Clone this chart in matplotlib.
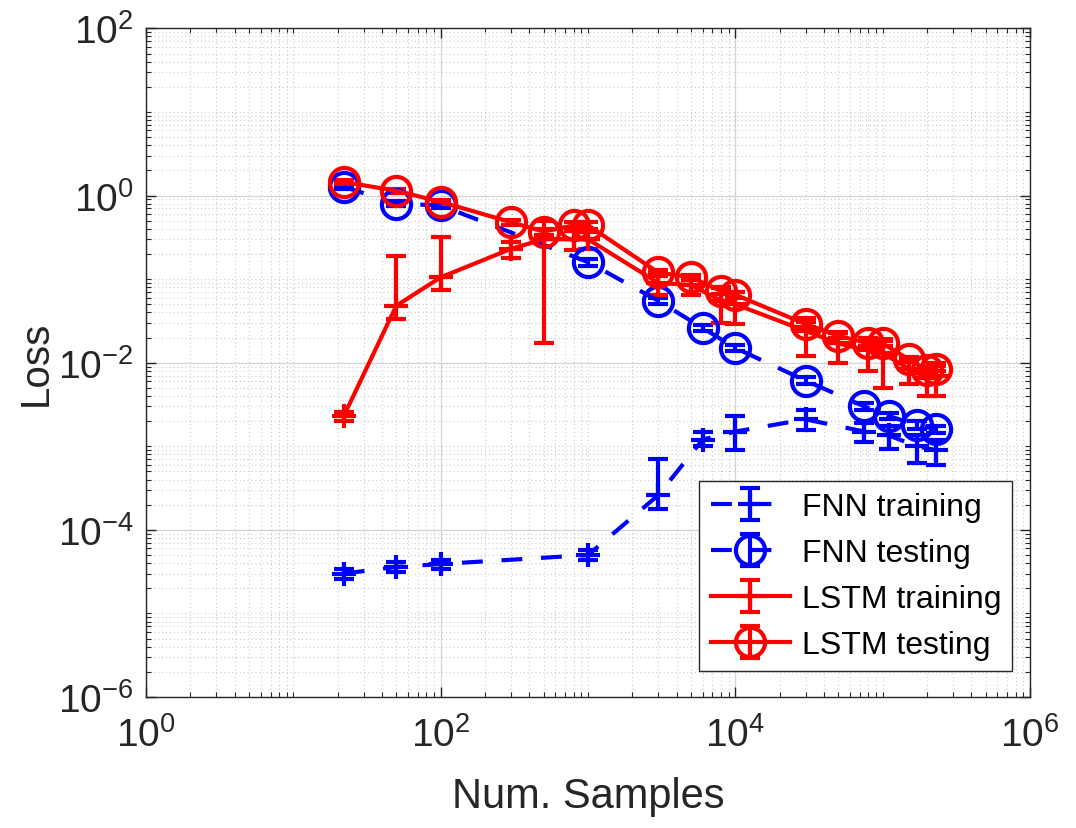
import matplotlib
matplotlib.use('Agg')
import matplotlib.pyplot as plt
import numpy as np
from matplotlib.ticker import FixedLocator, LogFormatterMathtext, NullFormatter

# ---------------- data ----------------
fnn_x = [22, 50, 100, 1000, 3000, 6000, 10000, 30000, 75000, 110000, 170000, 230000]
fnn_train = [3.0e-5, 3.6e-5, 3.9e-5, 5.0e-5, 2.6e-4, 1.2e-3, 1.5e-3, 2.1e-3, 1.5e-3, 1.35e-3, 1.0e-3, 9.0e-4]
fnn_train_lo = [0.4e-5, 0.5e-5, 0.5e-5, 0.7e-5, 0.8e-4, 2.0e-4, 6.0e-4, 5.5e-4, 3.7e-4, 4.2e-4, 3.7e-4, 3.1e-4]
fnn_train_hi = [0.4e-5, 0.5e-5, 0.5e-5, 0.7e-5, 4.4e-4, 3.0e-4, 8.0e-4, 6.0e-4, 4.0e-4, 4.0e-4, 3.7e-4, 3.0e-4]

fnn_test = [1.27, 0.80, 0.76, 0.16, 0.055, 0.026, 0.015, 0.0061, 0.0030, 0.0023, 0.0018, 0.0016]
fnn_test_err = [0.06, 0.05, 0.05, 0.015, 0.004, 0.002, 0.0012, 0.0006, 0.0003, 0.0002, 0.0002, 0.00015]

lstm_x = [22, 50, 100, 300, 500, 800, 1000, 3000, 5000, 8000, 10000, 30000, 50000, 80000, 100000, 150000, 200000, 230000]
lstm_train = [2.3e-3, 0.048, 0.105, 0.23, 0.30, 0.30, 0.30, 0.09, 0.085, 0.055, 0.05, 0.024, 0.017, 0.014, 0.013, 0.0085, 0.0065, 0.007]
lstm_train_lo = [0.3e-3, 0.015, 0.03, 0.05, 0.283, 0.08, 0.07, 0.025, 0.02, 0.025, 0.021, 0.012, 0.007, 0.006, 0.008, 0.003, 0.0025, 0.003]
lstm_train_hi = [0.3e-3, 0.142, 0.215, 0.05, 0.2, 0.08, 0.07, 0.025, 0.02, 0.025, 0.02, 0.01, 0.006, 0.006, 0.006, 0.003, 0.0025, 0.003]

lstm_test = [1.45, 1.14, 0.84, 0.48, 0.37, 0.44, 0.44, 0.12, 0.105, 0.072, 0.065, 0.029, 0.021, 0.017, 0.017, 0.011, 0.0082, 0.0085]
lstm_test_err = [0.08, 0.07, 0.05, 0.03, 0.03, 0.04, 0.04, 0.01, 0.008, 0.006, 0.005, 0.002, 0.0015, 0.0012, 0.0012, 0.0008, 0.0006, 0.0006]

labels = ['FNN training', 'FNN testing', 'LSTM training', 'LSTM testing']
xlabel = 'Num. Samples'
ylabel = 'Loss'

# ---------------- style ----------------
plt.rcParams['font.family'] = ['Liberation Sans', 'DejaVu Sans']
plt.rcParams['mathtext.fontset'] = 'custom'
plt.rcParams['mathtext.rm'] = 'Liberation Sans'
plt.rcParams['mathtext.it'] = 'Liberation Sans:italic'
plt.rcParams['mathtext.bf'] = 'Liberation Sans:bold'
plt.rcParams['mathtext.default'] = 'regular'

fig = plt.figure(figsize=(10.76, 8.29), dpi=100)
ax = fig.add_axes([0.1357, 0.158, 0.8215, 0.8066])

ax.set_xscale('log')
ax.set_yscale('log')
ax.set_xlim(1, 1e6)
ax.set_ylim(1e-6, 1e2)

blue = '#0000ff'
red = '#ff0000'
lw = 3
common = dict(lw=lw, elinewidth=lw, capthick=lw, capsize=7, mew=lw)

ax.errorbar(fnn_x, fnn_train, yerr=[fnn_train_lo, fnn_train_hi], color=blue,
            marker='+', ms=17, dashes=(5, 4.5), label=labels[0], **common)
ax.errorbar(fnn_x, fnn_test, yerr=fnn_test_err, color=blue,
            marker='o', ms=21, mfc='none', dashes=(5, 4.5), label=labels[1], **common)
ax.errorbar(lstm_x, lstm_train, yerr=[lstm_train_lo, lstm_train_hi], color=red,
            marker='+', ms=17, ls='-', label=labels[2], **common)
ax.errorbar(lstm_x, lstm_test, yerr=lstm_test_err, color=red,
            marker='o', ms=21, mfc='none', ls='-', label=labels[3], **common)

# ticks
xmaj = [1, 1e2, 1e4, 1e6]
ymaj = [1e-6, 1e-4, 1e-2, 1, 1e2]
xmin = [m * 10.0**k for k in range(0, 6) for m in range(1, 10) if m * 10.0**k not in xmaj and m * 10.0**k <= 1e6]
ymin = [m * 10.0**k for k in range(-6, 2) for m in range(1, 10) if m * 10.0**k not in ymaj]
ax.xaxis.set_major_locator(FixedLocator(xmaj))
ax.yaxis.set_major_locator(FixedLocator(ymaj))
ax.xaxis.set_minor_locator(FixedLocator(xmin))
ax.yaxis.set_minor_locator(FixedLocator(ymin))
ax.xaxis.set_major_formatter(LogFormatterMathtext())
ax.yaxis.set_major_formatter(LogFormatterMathtext())
ax.xaxis.set_minor_formatter(NullFormatter())
ax.yaxis.set_minor_formatter(NullFormatter())

ax.grid(True, which='major', color='#d4d4d4', lw=0.9, ls='-')
ax.grid(True, which='minor', color='#cccccc', lw=0.8, ls=(0, (1, 2.5)))
ax.set_axisbelow(True)

ax.tick_params(which='both', direction='in', top=True, right=True, colors='#262626', labelsize=28)
ax.tick_params(axis='x', which='major', length=7, width=1, pad=14)
ax.tick_params(axis='y', which='major', length=7, width=1, pad=9)
ax.tick_params(which='minor', length=3.5, width=0.8)
for s in ax.spines.values():
    s.set_color('#262626')
    s.set_linewidth(1)

ax.set_xlabel(xlabel, fontsize=30, color='#262626', labelpad=16)
ax.set_ylabel(ylabel, fontsize=29, color='#262626', labelpad=2)

leg = ax.legend(loc='lower right', bbox_to_anchor=(0.98, 0.039), fontsize=23,
                frameon=True, fancybox=False, edgecolor='#262626', framealpha=1,
                borderaxespad=0, handlelength=2.5, handletextpad=0.35,
                labelspacing=0.5, borderpad=0.35)
leg.get_frame().set_linewidth(1)

fig.savefig('out.png', dpi=100)
